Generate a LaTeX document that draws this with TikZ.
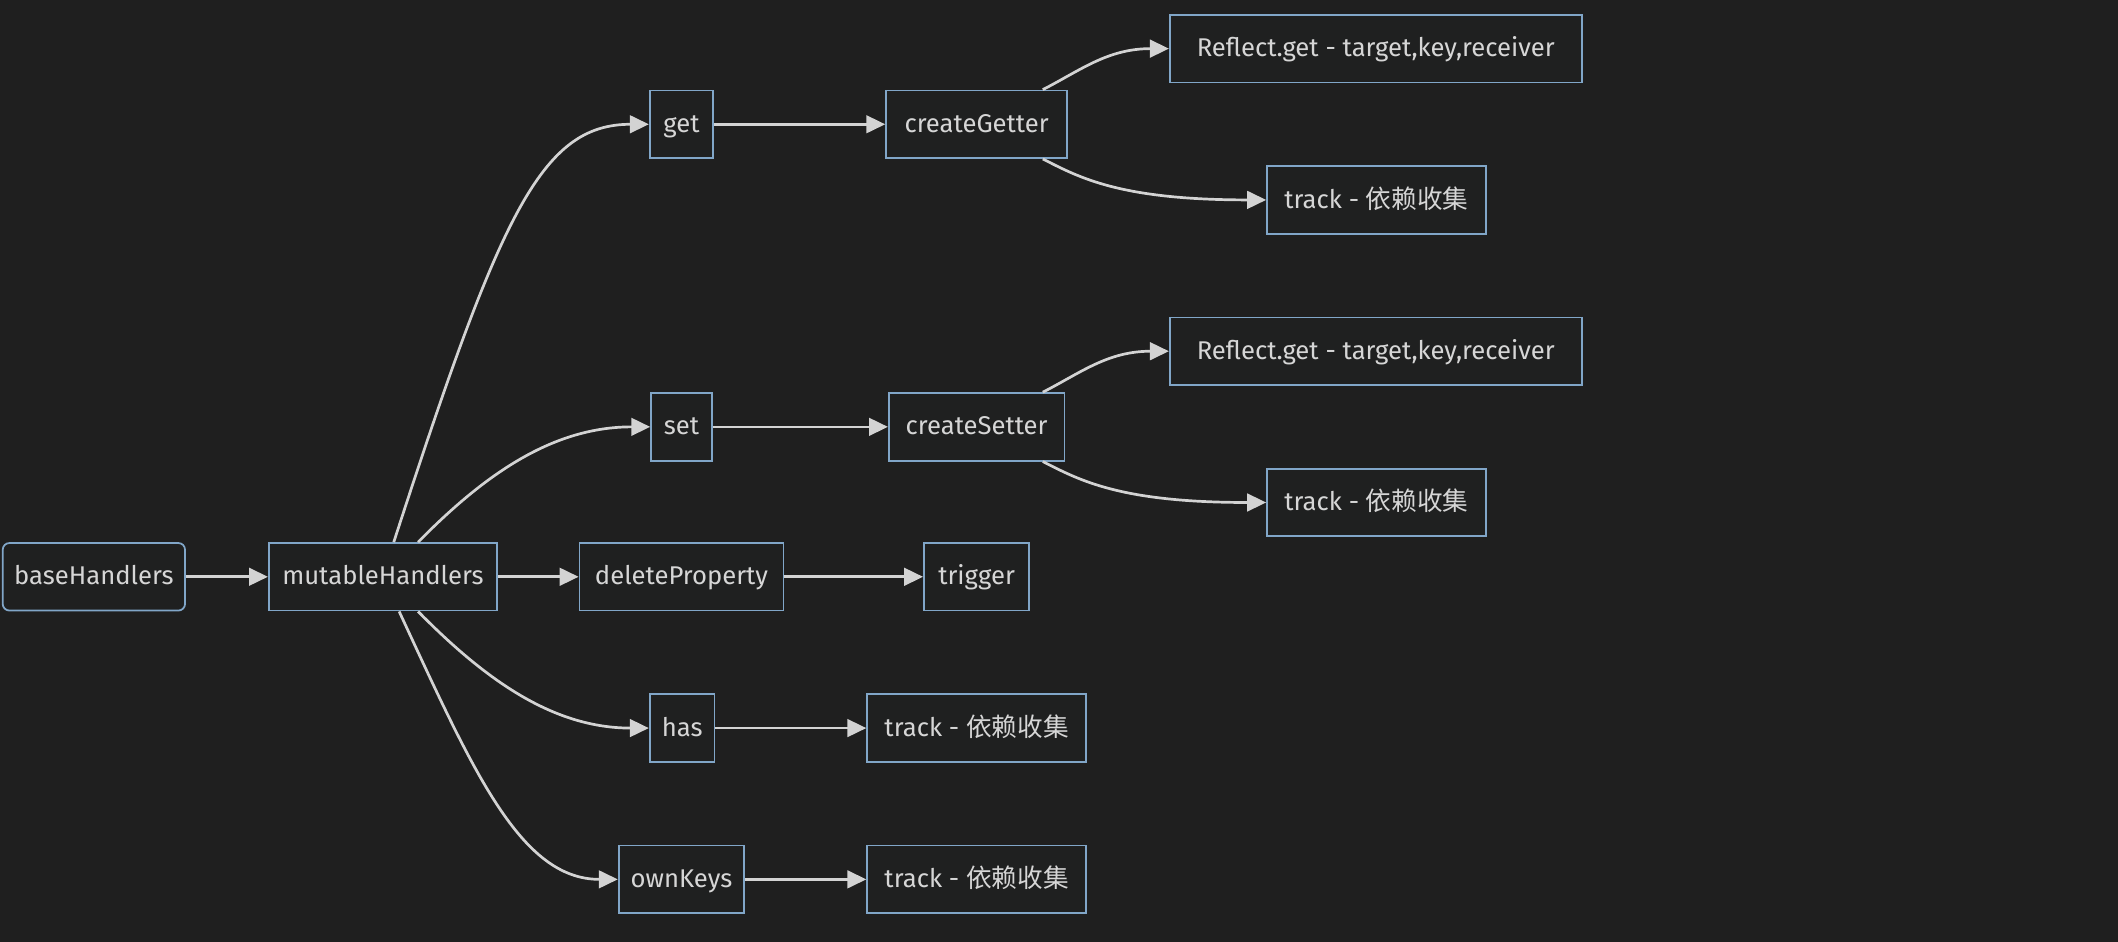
\documentclass[tikz,border=0pt]{standalone}
\usepackage{fontspec}
\setmainfont{Fira Sans}
\newfontfamily\cjk{Noto Sans CJK SC}
\usetikzlibrary{arrows.meta}
\definecolor{bg}{HTML}{1F1F1F}
\definecolor{boxfill}{HTML}{1F2020}
\definecolor{boxline}{HTML}{81A6C8}
\definecolor{txt}{HTML}{D6D6D6}
\definecolor{edgecol}{HTML}{D3D3D3}
\tikzset{
  box/.style={draw=boxline,fill=boxfill,line width=1.3pt,text=txt,minimum height=50pt,inner sep=0pt,
    text height=15pt,text depth=3pt,font=\fontsize{19}{22}\selectfont},
  edge/.style={draw=edgecol,line width=2pt,-{Triangle[length=14pt,width=13pt]}}
}
\newcommand{\yilai}{{\cjk 依赖收集}}
\begin{document}
\begin{tikzpicture}[x=1pt,y=-1pt]
  \fill[bg] (0,0) rectangle (1568,697);
  \useasboundingbox (0,0) rectangle (1568,697);
  % main row
  \node[box,rounded corners=5pt,minimum width=135pt] (base) at (69.5,427) {baseHandlers};
  \node[box,minimum width=169pt] (mut) at (283.5,427) {mutableHandlers};
  \node[box,minimum width=151pt] (del) at (504.5,427) {deleteProperty};
  \node[box,minimum width=78pt] (trig) at (723,427) {trigger};
  % get branch
  \node[box,minimum width=47pt] (get) at (504.5,92) {get};
  \node[box,minimum width=134pt] (cget) at (723,92) {createGetter};
  \node[box,minimum width=305pt] (rget) at (1018.5,36) {Reflect.get - target,key,receiver};
  \node[box,minimum width=162pt] (tget) at (1019,148) {track - \yilai};
  % set branch
  \node[box,minimum width=45pt] (set) at (504.5,316) {set};
  \node[box,minimum width=130pt] (cset) at (723,316) {createSetter};
  \node[box,minimum width=305pt] (rset) at (1018.5,260) {Reflect.get - target,key,receiver};
  \node[box,minimum width=162pt] (tset) at (1019,372) {track - \yilai};
  % has / ownKeys
  \node[box,minimum width=48pt] (has) at (505,539) {has};
  \node[box,minimum width=162pt] (thas) at (723,539) {track - \yilai};
  \node[box,minimum width=93pt] (own) at (504.5,651) {ownKeys};
  \node[box,minimum width=162pt] (town) at (723,651) {track - \yilai};
  % straight edges
  \draw[edge] (base) -- (mut);
  \draw[edge] (mut) -- (del);
  \draw[edge] (del) -- (trig);
  \draw[edge] (get) -- (cget);
  \draw[edge] (set) -- (cset);
  \draw[edge] (has) -- (thas);
  \draw[edge] (own) -- (town);
  % curved edges
  \draw[edge] ([xshift=8pt]mut.north) .. controls (370,160) and (400,92) .. (get.west);
  \draw[edge] ([xshift=26pt]mut.north) .. controls (360,350) and (410,316) .. (set.west);
  \draw[edge] ([xshift=26pt]mut.south) .. controls (360,504) and (410,539) .. (has.west);
  \draw[edge] ([xshift=12pt]mut.south) .. controls (350,570) and (385,651) .. (own.west);
  \draw[edge] ([xshift=49pt]cget.north) .. controls (800,52) and (820,36) .. (rget.west);
  \draw[edge] ([xshift=49pt]cget.south) .. controls (800,132) and (830,148) .. (tget.west);
  \draw[edge] ([xshift=49pt]cset.north) .. controls (800,276) and (820,260) .. (rset.west);
  \draw[edge] ([xshift=49pt]cset.south) .. controls (800,356) and (830,372) .. (tset.west);
\end{tikzpicture}
\end{document}
